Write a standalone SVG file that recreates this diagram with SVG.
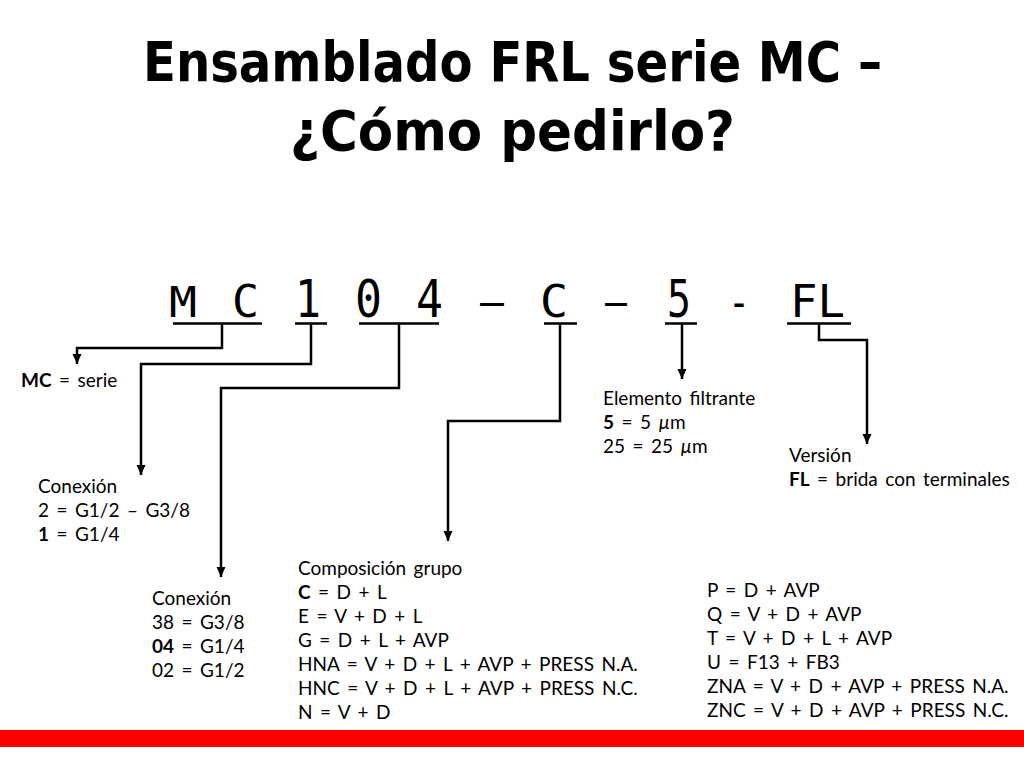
<svg xmlns="http://www.w3.org/2000/svg" width="1024" height="768" viewBox="0 0 1024 768">
<style>
.title{font-family:"DejaVu Sans",sans-serif;font-weight:bold;font-size:56px;fill:#000}
.code{font-family:"DejaVu Sans Mono",monospace;fill:#000}
.lbl{font-family:Lato,"Open Sans",sans-serif;font-size:19px;word-spacing:2.6px;fill:#000}
.b{font-weight:bold}
.ul{stroke:#000;stroke-width:2.5;fill:none}
.con{stroke:#000;stroke-width:2.5;fill:none;marker-end:url(#arr)}
</style>
<defs>
<marker id="arr" markerUnits="userSpaceOnUse" markerWidth="10" markerHeight="10" refX="10" refY="5" orient="auto">
<path d="M0,0.5 L10,5 L0,9.5 z" fill="#000"/>
</marker>
</defs>
<rect width="1024" height="768" fill="#fff"/>
<g id="title">
<text class="title" x="143" y="81" textLength="739" lengthAdjust="spacingAndGlyphs">Ensamblado FRL serie MC –</text>
<text class="title" x="290" y="150" textLength="445" lengthAdjust="spacingAndGlyphs">¿Cómo pedirlo?</text>
</g>
<g id="code">
<text class="code" x="169" y="317" font-size="42" textLength="28" lengthAdjust="spacingAndGlyphs">M</text>
<text class="code" x="232" y="317" font-size="44" textLength="27" lengthAdjust="spacingAndGlyphs">C</text>
<text class="code" x="295" y="317" font-size="51" textLength="26" lengthAdjust="spacingAndGlyphs">1</text>
<text class="code" x="355" y="317" font-size="51" textLength="27" lengthAdjust="spacingAndGlyphs">0</text>
<text class="code" x="416" y="317" font-size="51" textLength="27" lengthAdjust="spacingAndGlyphs">4</text>
<text class="code" x="480" y="317" font-size="44" textLength="24" lengthAdjust="spacingAndGlyphs">–</text>
<text class="code" x="540" y="317" font-size="44" textLength="28" lengthAdjust="spacingAndGlyphs">C</text>
<text class="code" x="605" y="317" font-size="44" textLength="22" lengthAdjust="spacingAndGlyphs">–</text>
<text class="code" x="667" y="317" font-size="51" textLength="24" lengthAdjust="spacingAndGlyphs">5</text>
<text class="code" x="728" y="317" font-size="44" textLength="22" lengthAdjust="spacingAndGlyphs">-</text>
<text class="code" x="790" y="317" font-size="44" textLength="55" lengthAdjust="spacingAndGlyphs">FL</text>
<path class="ul" d="M173,323.5 H262 M295,323.5 H327 M359,323.5 H439 M544,323.5 H577 M665,323.5 H697 M787,323.5 H851"/>
</g>
<g id="connectors">
<path class="con" d="M222,323 V348 H77 V364"/>
<path class="con" d="M311,323 V364 H141 V475"/>
<path class="con" d="M399,323 V388 H221 V577"/>
<path class="con" d="M560,323 V421 H448 V541"/>
<path class="con" d="M682,323 V379"/>
<path class="con" d="M819,323 V340 H867 V444"/>
</g>
<g id="n-serie">
<text class="lbl" x="21" y="387"><tspan class="b">MC</tspan> = serie</text>
</g>
<g id="n-conexion1">
<text class="lbl" x="38" y="493">Conexión</text>
<text class="lbl" x="38" y="517">2 = G1/2 – G3/8</text>
<text class="lbl" x="38" y="541"><tspan class="b">1</tspan> = G1/4</text>
</g>
<g id="n-conexion2">
<text class="lbl" x="152" y="605">Conexión</text>
<text class="lbl" x="152" y="629">38 = G3/8</text>
<text class="lbl" x="152" y="653"><tspan class="b">04</tspan> = G1/4</text>
<text class="lbl" x="152" y="677">02 = G1/2</text>
</g>
<g id="n-composicion">
<text class="lbl" x="298" y="575">Composición grupo</text>
<text class="lbl" x="298" y="599"><tspan class="b">C</tspan> = D + L</text>
<text class="lbl" x="298" y="623">E = V + D + L</text>
<text class="lbl" x="298" y="647">G = D + L + AVP</text>
<text class="lbl" x="298" y="671">HNA = V + D + L + AVP + PRESS N.A.</text>
<text class="lbl" x="298" y="695">HNC = V + D + L + AVP + PRESS N.C.</text>
<text class="lbl" x="298" y="719">N = V + D</text>
</g>
<g id="n-composicion2">
<text class="lbl" x="707" y="597">P = D + AVP</text>
<text class="lbl" x="707" y="621">Q = V + D + AVP</text>
<text class="lbl" x="707" y="645">T = V + D + L + AVP</text>
<text class="lbl" x="707" y="669">U = F13 + FB3</text>
<text class="lbl" x="707" y="693">ZNA = V + D + AVP + PRESS N.A.</text>
<text class="lbl" x="707" y="717">ZNC = V + D + AVP + PRESS N.C.</text>
</g>
<g id="n-elemento">
<text class="lbl" x="603" y="405">Elemento filtrante</text>
<text class="lbl" x="603" y="429"><tspan class="b">5</tspan> = 5 <tspan font-style="italic">µ</tspan>m</text>
<text class="lbl" x="603" y="453">25 = 25 <tspan font-style="italic">µ</tspan>m</text>
</g>
<g id="n-version">
<text class="lbl" x="789" y="462">Versión</text>
<text class="lbl" x="789" y="486"><tspan class="b">FL</tspan> = brida con terminales</text>
</g>
<rect id="footer-bar" x="0" y="730" width="1024" height="17" fill="#fe0000"/>
</svg>
